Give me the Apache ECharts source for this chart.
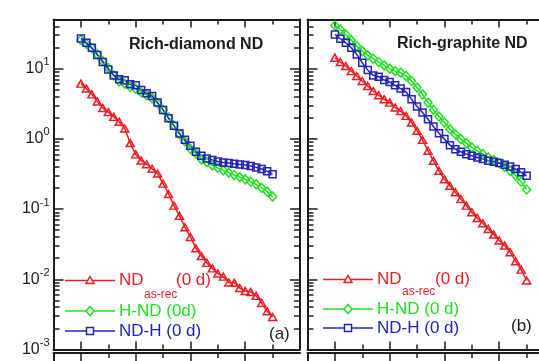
<!DOCTYPE html>
<html>
<head>
<meta charset="utf-8">
<script src="https://cdn.jsdelivr.net/npm/echarts@6/dist/echarts.min.js"></script>
<style>
  html, body { margin: 0; padding: 0; background: #fff; }
  #chart { width: 539px; height: 361px; }
</style>
</head>
<body>
<div id="chart"></div>
<script>
// Shared abscissa of every curve
const xValues = [0, 0.2, 0.4, 0.6, 0.8, 1, 1.2, 1.4, 1.6, 1.8, 2, 2.2, 2.4, 2.6, 2.8, 3, 3.2, 3.4,
  3.6, 3.8, 4, 4.2, 4.4, 4.6, 4.8, 5, 5.2, 5.4, 5.6, 5.8, 6, 6.2, 6.4, 6.6, 6.8, 7];

// (a) Rich-diamond ND
const diamondAsRec = [6.1, 5.2, 4.3, 3.4, 2.75, 2.4, 2.05, 1.75, 1.4, 0.87, 0.6, 0.49, 0.435, 0.375,
  0.32, 0.23, 0.164, 0.112, 0.08, 0.055, 0.04, 0.0277, 0.0214, 0.0171, 0.0143, 0.0121, 0.0109, 0.009,
  0.0089, 0.0075, 0.0068, 0.0066, 0.0058, 0.0046, 0.0035, 0.0029];
const diamondHND = [25.5, 22.5, 19.5, 16.0, 12.8, 10.2, 8.0, 6.6, 6.1, 5.5, 5.2, 4.6, 4.2, 3.8, 3.2,
  2.6, 2.0, 1.55, 1.17, 0.92, 0.72, 0.615, 0.51, 0.465, 0.42, 0.385, 0.355, 0.33, 0.305, 0.285, 0.265,
  0.245, 0.225, 0.2, 0.177, 0.15];
const diamondNDH = [26.9, 23.3, 19.8, 15.6, 12.4, 9.74, 8.0, 7.03, 6.8, 5.97, 5.77, 4.95, 4.45, 4.07,
  3.28, 2.58, 1.96, 1.53, 1.19, 0.966, 0.794, 0.653, 0.573, 0.526, 0.498, 0.477, 0.461, 0.451, 0.441,
  0.432, 0.423, 0.409, 0.392, 0.371, 0.344, 0.312];

// (b) Rich-graphite ND
const graphiteAsRec = [14.3, 12.4, 10.9, 9.2, 7.83, 6.65, 5.65, 4.80, 4.17, 3.66, 3.28, 2.79, 2.49,
  2.12, 1.71, 1.30, 0.966, 0.675, 0.486, 0.351, 0.265, 0.215, 0.173, 0.139, 0.112, 0.090, 0.0747,
  0.0628, 0.0521, 0.0433, 0.0356, 0.0302, 0.0243, 0.0181, 0.0137, 0.0096];
const graphiteHND = [41.0, 36.0, 30.6, 25.4, 20.9, 17.7, 15.4, 13.8, 12.4, 11.1, 9.97, 9.2, 8.75, 7.83,
  6.65, 5.36, 4.30, 3.28, 2.58, 2.08, 1.71, 1.37, 1.16, 0.989, 0.867, 0.753, 0.675, 0.605, 0.543, 0.497,
  0.451, 0.40, 0.35, 0.30, 0.245, 0.19];
const graphiteNDH = [30.6, 26.6, 23.3, 19.8, 15.9, 12.1, 9.52, 8.0, 7.67, 6.87, 6.43, 5.77, 5.19, 4.64,
  3.65, 2.88, 2.37, 1.90, 1.50, 1.20, 0.99, 0.813, 0.713, 0.653, 0.605, 0.573, 0.543, 0.514, 0.486,
  0.471, 0.451, 0.427, 0.405, 0.371, 0.333, 0.298];

// Axis ranges and tick values
const xRange = [-1, 8];
const xMajorTicks = [0, 2, 4, 6];
const xMinorTicks = [1, 3, 5, 7];
const yRange = [0.001, 50];
const decadeExponents = [-3, -2, -1, 0, 1];
const mantissas = [2, 3, 4, 5, 6, 7, 8, 9];

const panelTitles = ['Rich-diamond ND', 'Rich-graphite ND'];
const panelTags = ['(a)', '(b)'];

const FONT = 'Liberation Sans';
const INK = '#1c1c1c';
const RED = '#ec1c24';
const GREEN = '#22e022';
const BLUE = '#2424b4';

const logLo = Math.log10(yRange[0]);
const logHi = Math.log10(yRange[1]);
const minorLogTicks = [];
decadeExponents.forEach(function (e) {
  mantissas.forEach(function (m) {
    const v = m * Math.pow(10, e);
    if (v < yRange[1]) minorLogTicks.push(Math.log10(v));
  });
});

const upper = [
  { left: 53.5, top: 19.5, width: 246.5, height: 330 },
  { left: 307.5, top: 19.5, width: 246.5, height: 330 }
];
const lower = [
  { left: 53.5, top: 353, width: 246.5, height: 300 },
  { left: 307.5, top: 353, width: 246.5, height: 300 }
];

const grids = upper.concat(lower).map(function (g) {
  return { left: g.left, top: g.top, width: g.width, height: g.height,
    containLabel: false, outerBoundsMode: 'none', show: false };
});

function frameLine(show) {
  return { show: show, onZero: false, lineStyle: { color: INK, width: 2 } };
}
function xAxisOf(gridIndex, position, ticks, len, showLine) {
  return {
    type: 'value', gridIndex: gridIndex, position: position, min: xRange[0], max: xRange[1],
    axisLine: frameLine(showLine),
    axisTick: { show: true, inside: true, length: len, customValues: ticks,
      lineStyle: { color: INK, width: 1.5 } },
    axisLabel: { show: false }, splitLine: { show: false }
  };
}
function yTickAxis(gridIndex, position, ticks, len, showLine, withLabels) {
  return {
    type: 'value', gridIndex: gridIndex, position: position, min: logLo, max: logHi,
    axisLine: frameLine(showLine),
    axisTick: { show: true, inside: true, length: len, customValues: ticks,
      lineStyle: { color: INK, width: 1.5 } },
    axisLabel: withLabels ? {
      show: true, customValues: decadeExponents, margin: 4,
      formatter: function (v) { return '{b|10}{s|' + v + '}'; },
      rich: {
        b: { fontSize: 16, fontFamily: FONT, color: INK, lineHeight: 24 },
        s: { fontSize: 11, fontFamily: FONT, color: INK, lineHeight: 12, verticalAlign: 'top' }
      }
    } : { show: false },
    splitLine: { show: false }
  };
}

const xAxes = [];
const yAxes = [];
[0, 1].forEach(function (g) {
  // 4 x axes per panel: bottom major (data), bottom minor, top major, top minor
  xAxes.push(xAxisOf(g, 'bottom', xMajorTicks, 8, true));
  xAxes.push(xAxisOf(g, 'bottom', xMinorTicks, 5, false));
  xAxes.push(xAxisOf(g, 'top', xMajorTicks, 8, true));
  xAxes.push(xAxisOf(g, 'top', xMinorTicks, 5, false));
  // 5 y axes per panel: log data axis, left major/minor, right major/minor
  yAxes.push({ type: 'log', logBase: 10, gridIndex: g, min: yRange[0], max: yRange[1], show: false });
  yAxes.push(yTickAxis(g, 'left', decadeExponents, 10, true, g === 0));
  yAxes.push(yTickAxis(g, 'left', minorLogTicks, 6, false, false));
  yAxes.push(yTickAxis(g, 'right', decadeExponents, 10, true, false));
  yAxes.push(yTickAxis(g, 'right', minorLogTicks, 6, false, false));
});
[2, 3].forEach(function (g) {
  xAxes.push(xAxisOf(g, 'top', xMajorTicks, 8, true));
  xAxes.push(xAxisOf(g, 'top', xMinorTicks, 5, false));
  yAxes.push({ type: 'value', gridIndex: g, position: 'left', min: 0, max: 1,
    axisLine: frameLine(true), axisTick: { show: false }, axisLabel: { show: false },
    splitLine: { show: false } });
});

function curve(name, values, color, symbol, size, panel) {
  return {
    type: 'line', name: name, xAxisIndex: 4 * panel, yAxisIndex: 5 * panel,
    data: xValues.map(function (x, i) { return [x, values[i]]; }),
    symbol: symbol, symbolSize: size, showAllSymbol: true,
    lineStyle: { color: color, width: 1.5 },
    itemStyle: { color: 'rgba(255,255,255,0)', borderColor: color, borderWidth: 1.5 },
    emphasis: { disabled: true }, animation: false
  };
}

const series = [
  curve('ND as-rec (0 d)', diamondAsRec, RED, 'triangle', [8, 7], 0),
  curve('H-ND (0d)', diamondHND, GREEN, 'diamond', [8, 9], 0),
  curve('ND-H (0 d)', diamondNDH, BLUE, 'rect', [7, 7], 0),
  curve('ND as-rec (0 d)', graphiteAsRec, RED, 'triangle', [8, 7], 1),
  curve('H-ND (0 d)', graphiteHND, GREEN, 'diamond', [8, 9], 1),
  curve('ND-H (0 d)', graphiteNDH, BLUE, 'rect', [7, 7], 1)
];

// Legend keys and panel texts
function txt(x, y, text, color, size, weight) {
  return { type: 'text', x: x, y: y, z: 100,
    style: { text: text, fill: color, fontSize: size, fontFamily: FONT, fontWeight: weight || 'normal',
      align: 'left', verticalAlign: 'middle' } };
}
function key(x0, x1, y, color, shape) {
  const cx = (x0 + x1) / 2;
  const els = [{ type: 'line', z: 100, shape: { x1: x0, y1: y, x2: x1, y2: y },
    style: { stroke: color, lineWidth: 1.5 } }];
  const st = { fill: '#fff', stroke: color, lineWidth: 1.5 };
  if (shape === 'triangle') {
    els.push({ type: 'polygon', z: 101, shape: { points: [[cx, y - 4], [cx + 4, y + 3], [cx - 4, y + 3]] }, style: st });
  } else if (shape === 'diamond') {
    els.push({ type: 'polygon', z: 101, shape: { points: [[cx, y - 4.5], [cx + 4, y], [cx, y + 4.5], [cx - 4, y]] }, style: st });
  } else {
    els.push({ type: 'rect', z: 101, shape: { x: cx - 3.5, y: y - 3.5, width: 7, height: 7 }, style: st });
  }
  return els;
}

const graphic = [].concat(
  key(65, 115, 280.5, RED, 'triangle'),
  [txt(119, 280.5, 'ND', RED, 17), txt(144, 294.5, 'as-rec', RED, 12), txt(176, 280.5, '(0 d)', RED, 17)],
  key(65, 115, 311, GREEN, 'diamond'),
  [txt(119, 311, 'H-ND (0d)', GREEN, 17)],
  key(65, 115, 331, BLUE, 'rect'),
  [txt(119, 331, 'ND-H (0 d)', BLUE, 17)],
  [txt(269, 334, panelTags[0], INK, 17)],
  key(323, 373, 279.5, RED, 'triangle'),
  [txt(377, 279.5, 'ND', RED, 17), txt(402, 291.5, 'as-rec', RED, 12), txt(435, 279.5, '(0 d)', RED, 17)],
  key(323, 373, 309, GREEN, 'diamond'),
  [txt(377, 309, 'H-ND (0 d)', GREEN, 17)],
  key(323, 373, 328, BLUE, 'rect'),
  [txt(377, 328, 'ND-H (0 d)', BLUE, 17)],
  [txt(511, 326, panelTags[1], INK, 17)],
  [txt(129, 45, panelTitles[0], INK, 16, 'bold'), txt(397, 44, panelTitles[1], INK, 16, 'bold')]
);

const chart = echarts.init(document.getElementById('chart'), null, { renderer: 'canvas' });
chart.setOption({
  animation: false,
  backgroundColor: '#fff',
  grid: grids,
  xAxis: xAxes,
  yAxis: yAxes,
  series: series,
  graphic: graphic
});
</script>
</body>
</html>
